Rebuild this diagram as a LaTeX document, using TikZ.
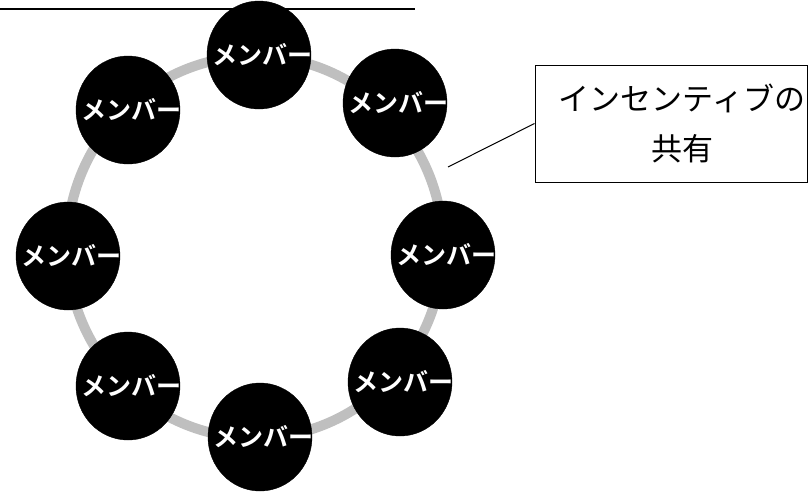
\documentclass[tikz,border=0pt]{standalone}
\usepackage{fontspec}
\newfontfamily\jpfont{Noto Sans CJK JP}
\newfontfamily\jpbold{Noto Sans CJK JP Bold}
\usetikzlibrary{shapes.geometric}
\definecolor{ringgray}{HTML}{BFBFBF}
\tikzset{
  member/.style={ellipse,fill=black,draw=black,minimum width=104pt,minimum height=108pt,inner sep=0pt},
  mtext/.style={text=white,font=\jpbold\fontsize{25}{25}\selectfont,inner sep=0pt},
  callout/.style={draw=black,line width=1pt,minimum width=272pt,minimum height=117pt,inner sep=0pt},
  callouttext/.style={align=center,font=\jpfont\fontsize{31}{50}\selectfont,inner sep=0pt},
  ring/.style={draw=ringgray,line width=10pt},
  leader/.style={draw=black,line width=1pt}
}
\begin{document}
\begin{tikzpicture}[x=1pt,y=-1pt]
\useasboundingbox (0,0) rectangle (810,493);
\fill[white] (0,0) rectangle (810,493);
% title underline (title text is cut off)
\draw[line width=2pt] (0,8.5) -- (415,8.5);
% ring
\draw[ring] (255,247) ellipse [x radius=188, y radius=191];
% members
\node[member] (m1) at (259,55) {};
\node[member] (m2) at (395,103) {};
\node[member] (m3) at (443,255) {};
\node[member] (m4) at (400,382) {};
\node[member] (m5) at (260,437) {};
\node[member] (m6) at (128,386) {};
\node[member] (m7) at (68,256) {};
\node[member] (m8) at (128,110) {};
\foreach \m in {m1,m2,m3,m4,m5,m6,m7,m8}{
  \node[mtext] at ([xshift=3pt]\m.center) {メンバー};
}
% callout
\node[callout] (box) at (671,123.5) {};
\node[callouttext] (boxtext) at ([xshift=11pt]box.center) {インセンティブの\\共有};
\coordinate (lead) at (448,167);
\draw[leader] (lead) -- (box.west);
\end{tikzpicture}
\end{document}
